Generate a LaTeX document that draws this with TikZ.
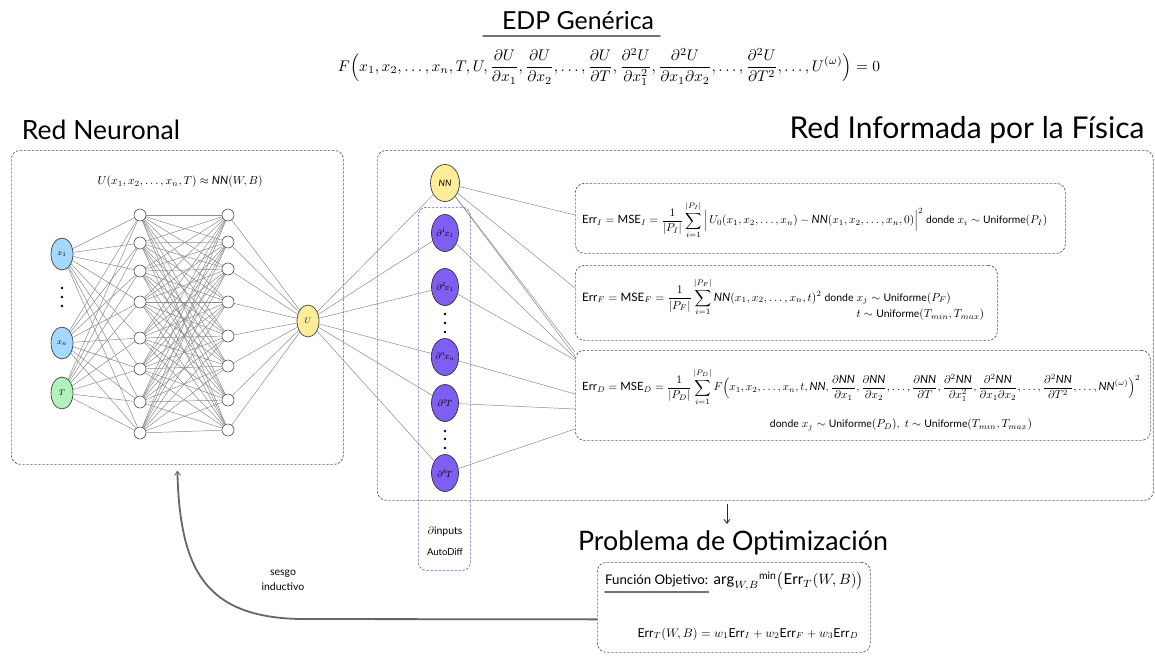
\documentclass[tikz,border=0pt]{standalone}
\usepackage{fontspec}
\usepackage{amsmath}
\usepackage{graphicx}
\setmainfont{Lato}
\usetikzlibrary{shapes.geometric,arrows.meta}

\definecolor{inblue}{HTML}{A5D8FF}
\definecolor{ingreen}{HTML}{B2F2BB}
\definecolor{outyellow}{HTML}{FFEC99}
\definecolor{dpurple}{HTML}{7E5FF2}
\definecolor{boxline}{HTML}{555555}
\definecolor{edgegray}{HTML}{8C8C8C}
\definecolor{purpledash}{HTML}{6A63C4}

\newcommand{\Err}{\mathrm{Err}}
\newcommand{\MSE}{\mathrm{MSE}}
\newcommand{\NNf}{\mathit{NN}}
\newcommand{\unif}{\text{\small Uniforme}}
\newcommand{\dnd}{\text{\small donde}}

\tikzset{
  dashbox/.style={draw=boxline, dash pattern=on 2.4pt off 1.6pt, line width=0.7pt, rounded corners=9pt, inner sep=0pt},
  adbox/.style={draw=purpledash, dash pattern=on 2.4pt off 1.6pt, line width=0.7pt, rounded corners=8pt, inner sep=0pt},
  neuron/.style={circle, draw=black!70, fill=white, line width=0.6pt, minimum size=12pt, inner sep=0pt},
  bignode/.style={ellipse, draw=black!75, line width=0.7pt, inner sep=0pt, minimum width=22pt, minimum height=32pt, font=\footnotesize},
  dnode/.style={ellipse, draw=black!80, fill=dpurple, line width=0.7pt, inner sep=0pt, minimum width=27pt, minimum height=37pt, font=\small},
  link/.style={draw=edgegray, line width=0.5pt},
  txt/.style={inner sep=0pt},
  feedback/.style={draw=black!60, line width=1.8pt, -{Straight Barb[length=4pt,width=6pt,line width=0.8pt]}},
  dot/.style={circle, fill=black, inner sep=0pt, minimum size=2.6pt},
}

\begin{document}
\begin{tikzpicture}[x=1pt,y=-1pt]
\useasboundingbox (0,0) rectangle (1155,656);
\fill[white] (0,0) rectangle (1155,656);

% ---------- headings ----------
\node[txt] (pdetitle) at (578,21) {\resizebox{152pt}{!}{EDP Genérica}};
\draw[black!55, line width=1.6pt, line cap=round] (483,36) -- (660,36);
\node[txt] (pde) at (609,67) {\resizebox{542pt}{!}{$\displaystyle
  F\Big(x_1,x_2,\ldots,x_n,T,U,\frac{\partial U}{\partial x_1},\frac{\partial U}{\partial x_2},\ldots,\frac{\partial U}{\partial T},
  \frac{\partial^2 U}{\partial x_1^2},\frac{\partial^2 U}{\partial x_1\partial x_2},\ldots,\frac{\partial^2 U}{\partial T^2},\ldots,U^{(\omega)}\Big)=0$}};
\node[txt] (nntitle) at (101,130) {\resizebox{158pt}{!}{Red Neuronal}};
\node[txt] (pinntitle) at (967,130) {\resizebox{355pt}{!}{Red Informada por la Física}};
\node[txt] (prob) at (733,543) {\resizebox{310pt}{!}{Problema de Optimización}};

% ---------- frames ----------
\node[dashbox, anchor=north west, minimum width=332pt, minimum height=314pt] (nnbox) at (11,150) {};
\node[dashbox, anchor=north west, minimum width=776pt, minimum height=350pt] (pinn) at (377,150) {};
\node[adbox, anchor=north west, minimum width=52pt, minimum height=363pt] (autod) at (418,207) {};
\node[dashbox, anchor=north west, minimum width=490pt, minimum height=70pt] (errI) at (575,183) {};
\node[dashbox, anchor=north west, minimum width=422pt, minimum height=75pt] (errF) at (575,265) {};
\node[dashbox, anchor=north west, minimum width=575pt, minimum height=90pt] (errD) at (575,350) {};
\node[dashbox, anchor=north west, minimum width=273pt, minimum height=90pt] (opt) at (597,562) {};

% ---------- neural network ----------
\node[txt] (approx) at (180,182) {\resizebox{165pt}{!}{$U(x_1,x_2,\ldots,x_n,T)\approx \NNf(W,B)$}};
\node[bignode, fill=inblue] (x1) at (62,254) {$x_1$};
\node[bignode, fill=inblue] (xn) at (62,343) {$x_n$};
\node[bignode, fill=ingreen] (tt) at (62,393) {$T$};
\foreach \y [count=\k] in {288,297,306} \node[dot] (vd\k) at (62,\y) {};
\foreach \y [count=\i] in {215,243,271,302,338,369,402,433} \node[neuron] (ha\i) at (140,\y) {};
\foreach \y [count=\i] in {215,242,269,302,336,366,400,430} \node[neuron] (hb\i) at (228,\y) {};
\node[bignode, fill=outyellow] (u) at (308,321) {$U$};

\foreach \s in {x1,xn,tt} \foreach \i in {1,...,8} \draw[link] (\s) -- (ha\i);
\foreach \i in {1,...,8} \foreach \j in {1,...,8} \draw[link] (ha\i) -- (hb\j);
\foreach \j in {1,...,8} \draw[link] (hb\j) -- (u);

% ---------- automatic differentiation ----------
\node[bignode, fill=outyellow, minimum width=29pt, minimum height=37pt, font=\small] (nn) at (445,183) {$\NNf$};
\node[dnode] (d1) at (445,233) {$\partial^1\! x_1$};
\node[dnode] (d2) at (445,287) {$\partial^2\! x_1$};
\node[dnode] (d3) at (445,357) {$\partial^n\! x_n$};
\node[dnode] (d4) at (445,403) {$\partial^1\! T$};
\node[dnode] (d5) at (445,473) {$\partial^k\! T$};
\foreach \y [count=\k] in {314,323,332} \node[dot] (pa\k) at (445,\y) {};
\foreach \y [count=\k] in {431,439,448} \node[dot] (pb\k) at (445,\y) {};
\node[txt, font=\fontsize{10.5}{12}\selectfont] (adlab1) at (445,532) {$\partial$inputs};
\node[txt, font=\fontsize{9.5}{12}\selectfont] (adlab2) at (445,552) {AutoDiff};

\foreach \t in {nn,d1,d2,d3,d4,d5} \draw[link] (u) -- (\t);

\coordinate (inI) at (575,215);
\coordinate (inF) at (575,288);
\coordinate (inDa) at (575,352);
\coordinate (inDb) at (575,356);
\coordinate (inDc) at (575,358);
\coordinate (inDd) at (575,360);
\coordinate (inDe) at (575,394);
\coordinate (inDf) at (575,409);
\coordinate (inDg) at (575,429);
\draw[link] (nn) -- (inI);
\draw[link] (nn) -- (inF);
\draw[link] (nn) -- (inDa);
\draw[link] (nn) -- (inDb);
\draw[link] (d1) -- (inDc);
\draw[link] (d2) -- (inDd);
\draw[link] (d3) -- (inDe);
\draw[link] (d4) -- (inDf);
\draw[link] (d5) -- (inDg);

% ---------- loss terms ----------
\node[txt, anchor=west] (eqI) at (582,220) {\resizebox{465pt}{!}{$\displaystyle
  \Err_I=\MSE_I=\frac{1}{|P_I|}\sum_{i=1}^{|P_I|}\Big|\,U_0(x_1,x_2,\ldots,x_n)-\NNf(x_1,x_2,\ldots,x_n,0)\Big|^2
  \ \dnd\ x_i\sim\unif(P_I)$}};
\node[txt, anchor=west] (eqF) at (582,300) {\resizebox{402pt}{!}{$\displaystyle
  \Err_F=\MSE_F=\frac{1}{|P_F|}\sum_{i=1}^{|P_F|}\NNf(x_1,x_2,\ldots,x_n,t)^2\ \dnd\ 
  \begin{array}[t]{@{}l@{}} x_j\sim\unif(P_F)\\[2pt] t\sim\unif(T_{min},T_{max})\end{array}$}};
\node[txt, anchor=west] (eqD) at (582,387) {\resizebox{558pt}{!}{$\displaystyle
  \Err_D=\MSE_D=\frac{1}{|P_D|}\sum_{i=1}^{|P_D|}F\Big(x_1,x_2,\ldots,x_n,t,\NNf,\frac{\partial \NNf}{\partial x_1},\frac{\partial \NNf}{\partial x_2},\ldots,\frac{\partial \NNf}{\partial T},
  \frac{\partial^2 \NNf}{\partial x_1^2},\frac{\partial^2 \NNf}{\partial x_1\partial x_2},\ldots,\frac{\partial^2 \NNf}{\partial T^2},\ldots,\NNf^{(\omega)}\Big)^2$}};
\node[txt] (eqDw) at (901,425) {\resizebox{262pt}{!}{$\dnd\ x_j\sim\unif(P_D),\ t\sim\unif(T_{min},T_{max})$}};

% ---------- optimisation ----------
\coordinate (optarrow) at (727,504);
\draw[black!85, line width=0.8pt, -{Straight Barb[length=4pt,width=6pt]}] (optarrow) -- (727,524);
\node[txt, anchor=west] (fo) at (605,581) {\resizebox{103pt}{!}{Función Objetivo:}};
\draw[black!55, line width=1.6pt, line cap=round] ([yshift=-5pt]fo.south west) -- ([yshift=-5pt]fo.south east);
\node[txt, anchor=west] (argmin) at ([xshift=5pt]fo.east) {\resizebox{150pt}{!}{$\mathrm{arg}_{W,B}{}^{\min}\big(\Err_T(W,B)\big)$}};
\node[txt] (total) at (748,634) {\resizebox{221pt}{!}{$\Err_T(W,B)=w_1\Err_I+w_2\Err_F+w_3\Err_D$}};

% ---------- inductive bias ----------
\draw[feedback] ([yshift=-12pt]opt.west) -- (300,619) .. controls (205,617) and (180,570) .. ([yshift=-6pt]nnbox.south);
\node[txt, align=center, font=\fontsize{10.5}{15}\selectfont] (bias) at (283,580) {sesgo\\inductivo};
\end{tikzpicture}
\end{document}
